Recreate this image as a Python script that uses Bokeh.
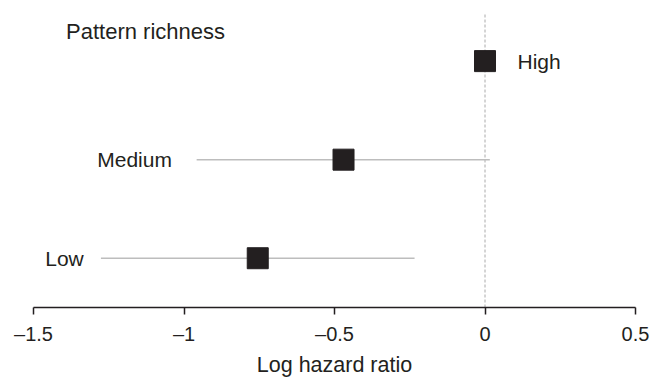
from bokeh.plotting import figure
from bokeh.models import Range1d, FixedTicker, ColumnDataSource
from bokeh.core.properties import value
from bokeh.embed import file_html
from bokeh.resources import INLINE

# data
groups = ["High", "Medium", "Low"]
estimate = [0.0, -0.47, -0.755]
ci_lower = [None, -0.958, -1.276]
ci_upper = [None, 0.016, -0.234]
x_ticks = [-1.5, -1.0, -0.5, 0.0, 0.5]
x_tick_labels = ["\u20131.5", "\u20131", "\u20130.5", "0", "0.5"]
title_text = "Pattern richness"
x_title = "Log hazard ratio"

# layout (row positions and label anchors)
row_y = [3, 2, 1]
label_x = [0.108, -1.040, -1.333]
label_align = ["left", "right", "right"]

INK = "#231f20"
FONT = "Liberation Sans"

p = figure(width=662, height=379, output_backend="svg", toolbar_location=None,
           x_range=Range1d(-1.5, 0.5), y_range=Range1d(0.5, 3.615),
           min_border_left=33, min_border_right=27, min_border_top=0,
           min_border_bottom=70)
p.outline_line_color = None
p.xgrid.visible = False
p.ygrid.visible = False
p.yaxis.visible = False
p.background_fill_color = "white"
p.border_fill_color = "white"

# reference line at 0
p.segment(x0=[0], y0=[0.5], x1=[0], y1=[3.49], line_color="#aaaaaa",
          line_width=1, line_dash="3 2")

# CIs
ci_src = ColumnDataSource(dict(
    x0=[a for a in ci_lower if a is not None],
    x1=[b for b in ci_upper if b is not None],
    y=[y for y, a in zip(row_y, ci_lower) if a is not None]))
p.segment(x0="x0", y0="y", x1="x1", y1="y", source=ci_src,
          line_color="#bdbdbd", line_width=1.5)

# points
p.scatter(x=estimate, y=row_y, marker="square", size=21,
          fill_color=INK, line_color=INK)

# labels
src = ColumnDataSource(dict(x=label_x, y=row_y, t=groups, a=label_align))
p.text(x="x", y="y", text="t", text_align="a", source=src,
       text_baseline="middle", text_font=value(FONT),
       text_font_size="21px", text_color=INK)

p.text(x=[-1.392], y=[3.3], text=[title_text], text_align="left",
       text_baseline="middle", text_font=value(FONT),
       text_font_size="22px", text_color=INK)

ax = p.xaxis[0]
ax.ticker = FixedTicker(ticks=x_ticks)
ax.major_label_overrides = {t: l for t, l in zip(x_ticks, x_tick_labels)}
ax.minor_tick_line_color = None
ax.major_tick_in = 0
ax.major_tick_out = 7
ax.axis_line_color = INK
ax.axis_line_width = 1.5
ax.major_tick_line_color = INK
ax.major_tick_line_width = 1.5
ax.major_label_text_font = FONT
ax.major_label_text_font_size = "20px"
ax.major_label_text_color = INK
ax.major_label_standoff = 8
ax.axis_label = x_title
ax.axis_label_text_font = FONT
ax.axis_label_text_font_size = "21.5px"
ax.axis_label_text_font_style = "normal"
ax.axis_label_text_color = INK
ax.axis_label_standoff = 5

open("out.html", "w").write(file_html(p, INLINE))
